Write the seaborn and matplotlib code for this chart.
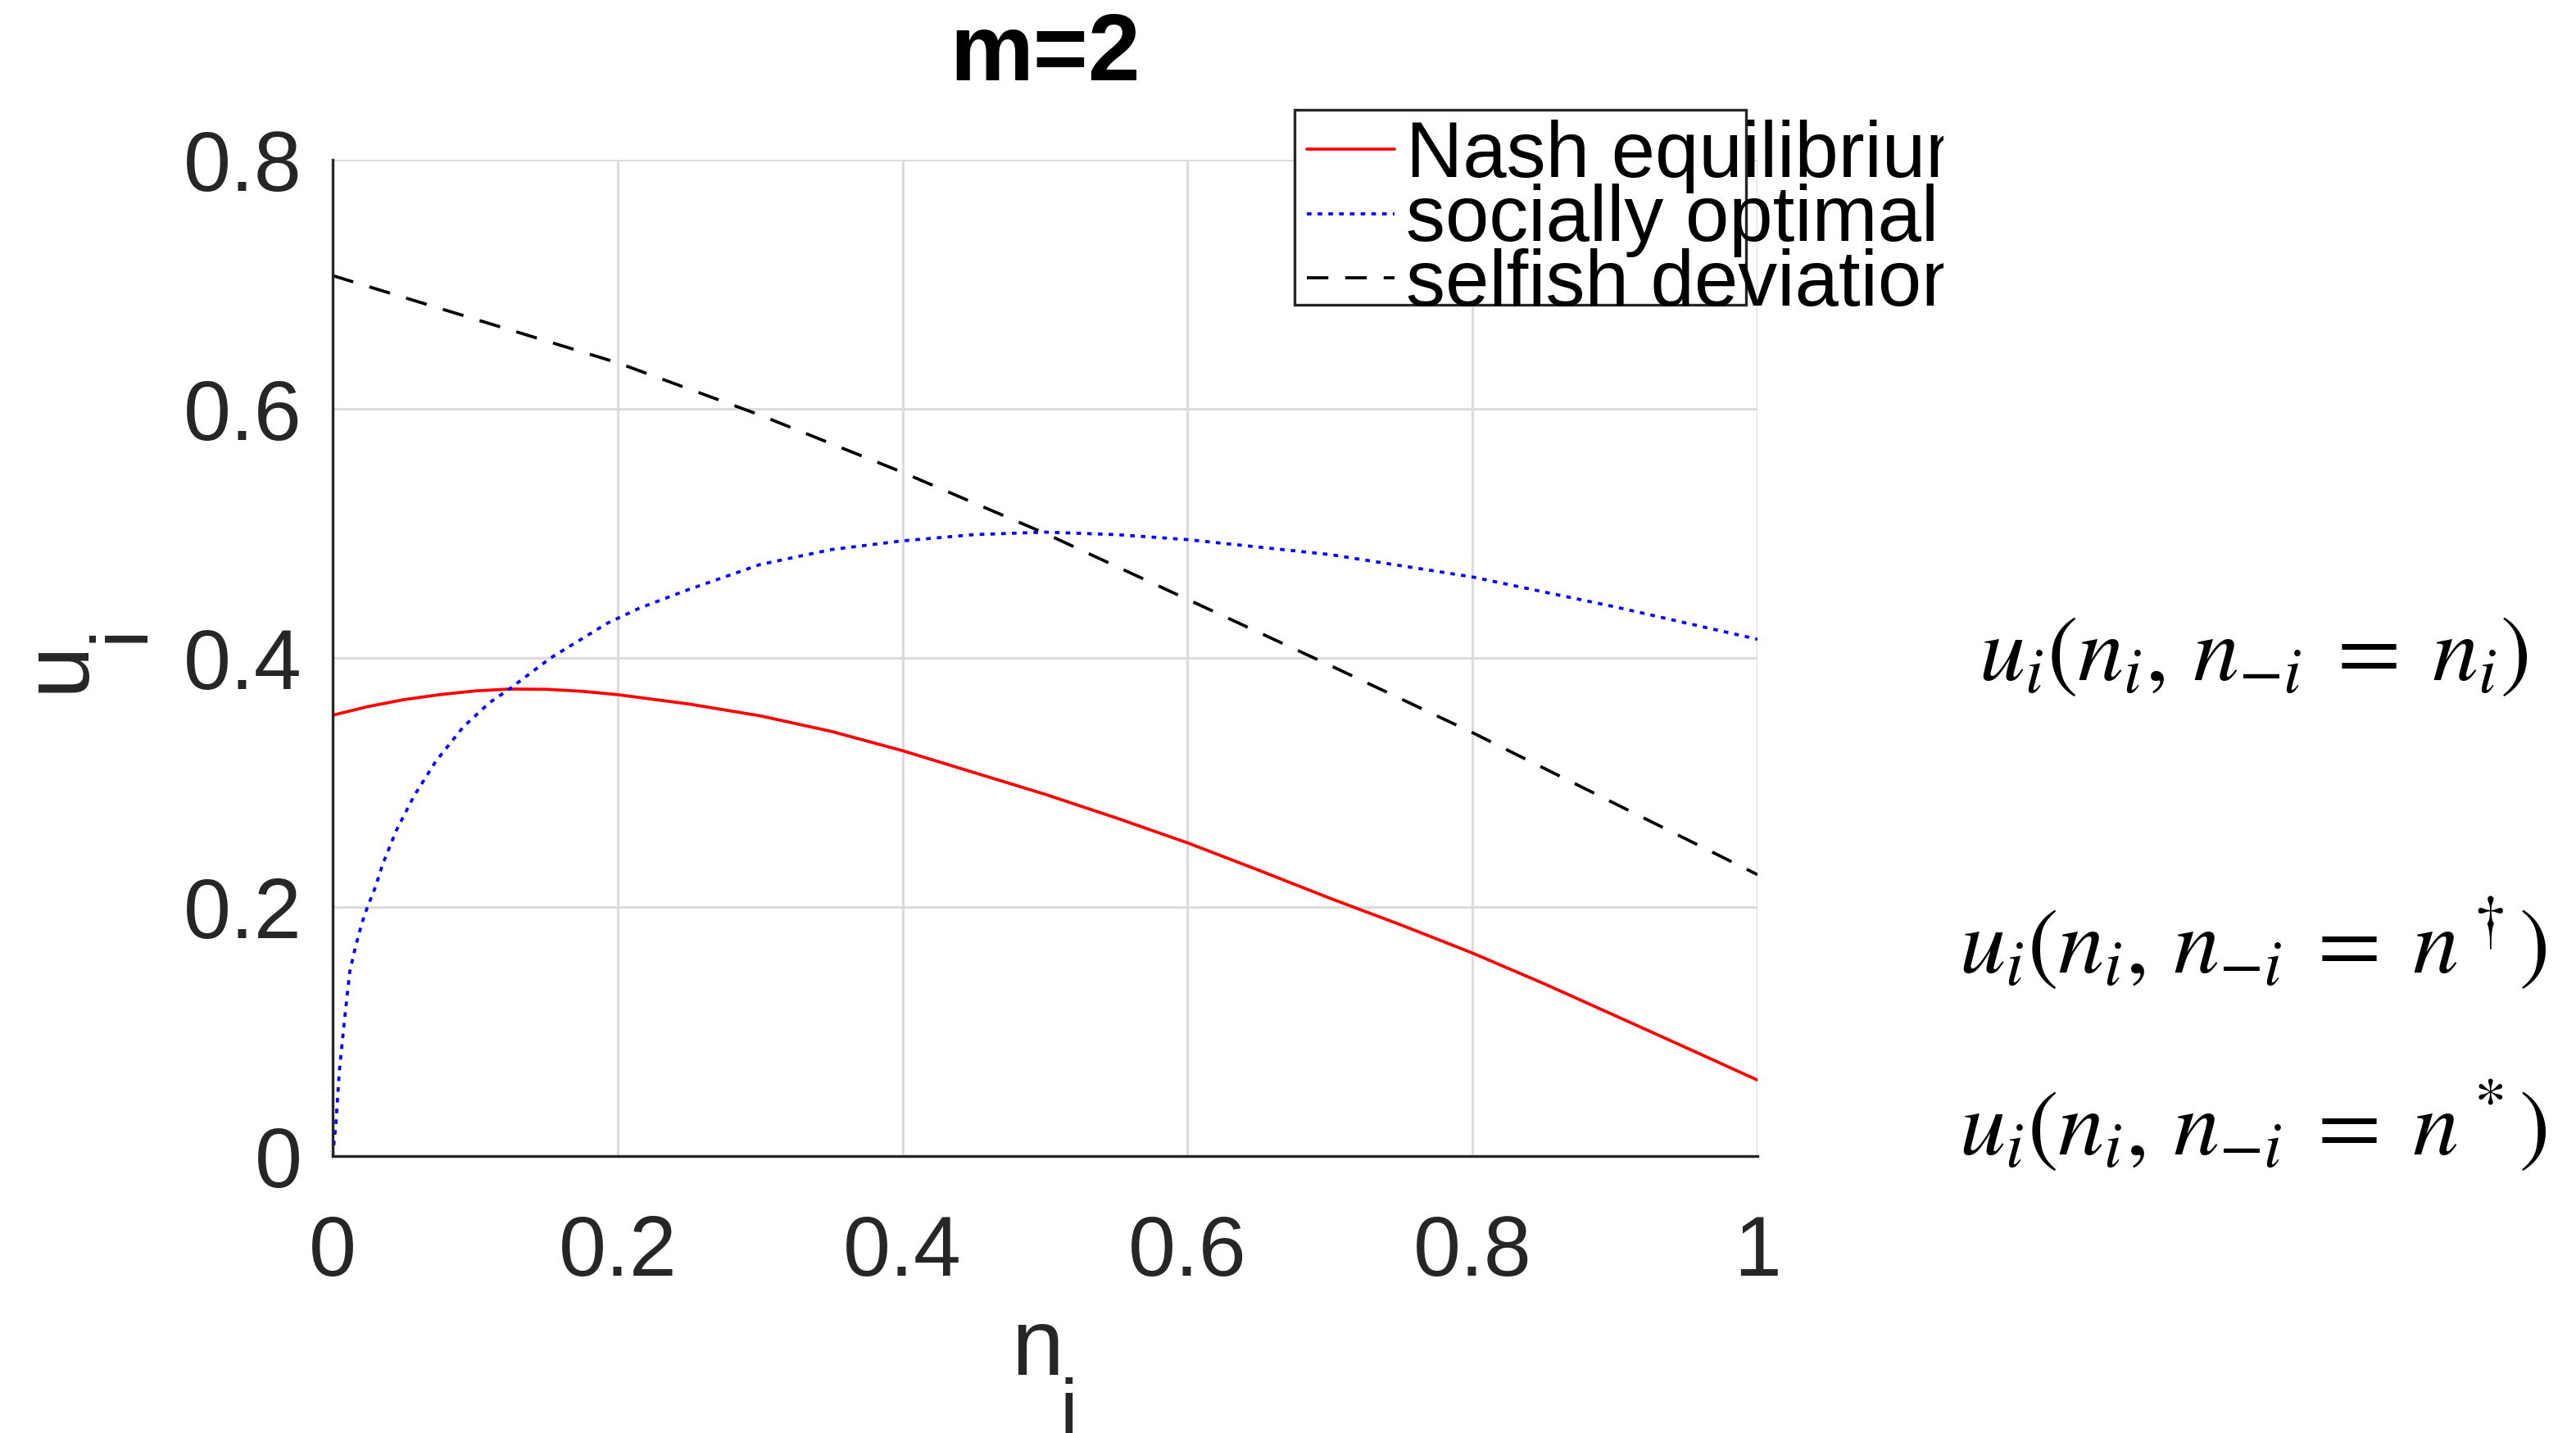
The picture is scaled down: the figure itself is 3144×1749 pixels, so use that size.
import matplotlib
matplotlib.use("Agg")
import matplotlib.pyplot as plt
import seaborn as sns
import pandas as pd
from matplotlib.patches import Rectangle
from matplotlib.transforms import Bbox

# ---------------- data ----------------
nash_x = [0, 0.025, 0.05, 0.075, 0.1, 0.124, 0.15, 0.175, 0.2, 0.25, 0.3,
          0.35, 0.4, 0.45, 0.5, 0.55, 0.6, 0.65, 0.7, 0.75, 0.8, 0.85, 0.9,
          0.95, 1.0]
nash_y = [0.354, 0.361, 0.3665, 0.3705, 0.3735, 0.375, 0.3748, 0.3732,
          0.3705, 0.3630, 0.3535, 0.3410, 0.3255, 0.3080, 0.2905, 0.2715,
          0.2515, 0.2295, 0.2070, 0.1855, 0.1630, 0.1385, 0.1128, 0.0870,
          0.0610]

soc_x = [0, 0.0023, 0.0046, 0.0073, 0.0095, 0.012, 0.016, 0.0205, 0.0244,
         0.03, 0.035, 0.0445, 0.057, 0.0724, 0.0916, 0.11, 0.124, 0.153,
         0.193, 0.2154, 0.25, 0.3, 0.35, 0.4, 0.45, 0.5, 0.55, 0.6, 0.65,
         0.7, 0.75, 0.8, 0.85, 0.9, 0.95, 1.0]
soc_y = [0, 0.026, 0.067, 0.098, 0.122, 0.148, 0.168, 0.187, 0.2, 0.216,
         0.234, 0.261, 0.289, 0.317, 0.3445, 0.364, 0.375, 0.40, 0.428,
         0.440, 0.455, 0.475, 0.487, 0.494, 0.499, 0.501, 0.499, 0.495,
         0.489, 0.483, 0.474, 0.465, 0.453, 0.441, 0.428, 0.415]

self_x = [0, 0.1, 0.2, 0.3, 0.4, 0.5, 0.6, 0.7, 0.8, 0.9, 1.0]
self_y = [0.707, 0.672, 0.637, 0.595, 0.549, 0.500, 0.447, 0.394, 0.340,
          0.283, 0.226]

series_labels = ["Nash equilibrium", "socially optimal", "selfish deviation"]
x_ticks = [0, 0.2, 0.4, 0.6, 0.8, 1.0]
x_tick_labels = ["0", "0.2", "0.4", "0.6", "0.8", "1"]
y_ticks = [0, 0.2, 0.4, 0.6, 0.8]
y_tick_labels = ["0", "0.2", "0.4", "0.6", "0.8"]
title_text = "m=2"
annot_texts = [r"$u_i(n_i,\, n_{-i} \;=\; n_i)$",
               r"$u_i(n_i,\, n_{-i} \;=\; n^\dagger)$",
               r"$u_i(n_i,\, n_{-i} \;=\; n^*)$"]

# ---------------- style ----------------
sns.set_theme(style="white")
plt.rcParams["font.family"] = ["Liberation Sans", "DejaVu Sans"]
plt.rcParams["mathtext.fontset"] = "stix"

W, H, DPI = 3145, 1749, 300
fig = plt.figure(figsize=(W / DPI, H / DPI), dpi=DPI)
fig.patch.set_facecolor("white")

def fx(px):
    return px / W

def fy(py):
    return 1 - py / H

ax_left, ax_right, ax_top, ax_bottom = 406, 2145, 195, 1411
ax = fig.add_axes([fx(ax_left), fy(ax_bottom), fx(ax_right - ax_left),
                   (ax_bottom - ax_top) / H])
ax.set_facecolor("white")

df_n = pd.DataFrame({"x": nash_x, "y": nash_y})
df_s = pd.DataFrame({"x": soc_x, "y": soc_y})
df_d = pd.DataFrame({"x": self_x, "y": self_y})

LW = 0.9
sns.lineplot(data=df_n, x="x", y="y", ax=ax, color="#ff0000", lw=LW,
             sort=False, estimator=None)
l_n = ax.lines[-1]
sns.lineplot(data=df_s, x="x", y="y", ax=ax, color="#0000ff", lw=LW,
             sort=False, estimator=None)
l_s = ax.lines[-1]
l_s.set_dashes([1.5, 2.0])
sns.lineplot(data=df_d, x="x", y="y", ax=ax, color="#000000", lw=LW,
             sort=False, estimator=None)
l_d = ax.lines[-1]
l_d.set_dashes([7.0, 5.5])

ax.set_xlim(0, 1)
ax.set_ylim(0, 0.8)
ax.set_xticks(x_ticks)
ax.set_xticklabels(x_tick_labels)
ax.set_yticks(y_ticks)
ax.set_yticklabels(y_tick_labels)
ax.set_xlabel("")
ax.set_ylabel("")

dark = "#262626"
ax.tick_params(axis="both", direction="in", length=3.8, width=0.8,
               colors=dark, labelsize=25)
ax.tick_params(axis="x", pad=17)
ax.tick_params(axis="y", pad=8.9)
for s in ["top", "right"]:
    ax.spines[s].set_visible(False)
for s in ["left", "bottom"]:
    ax.spines[s].set_color(dark)
    ax.spines[s].set_linewidth(0.8)
ax.grid(True, color="#dcdcdc", lw=0.75)
ax.set_axisbelow(True)

# ---------------- title & axis labels ----------------
fig.text(fx(1276), fy(98), title_text, ha="center", va="baseline",
         fontsize=27.5, fontweight="bold", color="black")

fig.text(fx(1234.5), fy(1678), "n", ha="left", va="baseline",
         fontsize=27.5, color=dark)
fig.text(fx(1293.5), fy(1752), "i", ha="left", va="baseline",
         fontsize=23.5, color=dark)

fig.text(fx(102), fy(845), "u", ha="left", va="baseline", rotation=90,
         rotation_mode="anchor", fontsize=27.5, color=dark)
fig.text(fx(175), fy(784), "i", ha="left", va="baseline", rotation=90,
         rotation_mode="anchor", fontsize=23.5, color=dark)

# ---------------- legend ----------------
box = Rectangle((fx(1580), fy(372)), fx(2131 - 1580), (372 - 134) / H,
                transform=fig.transFigure, facecolor="white",
                edgecolor=dark, lw=0.8, clip_on=False, zorder=4)
ax.add_patch(box)
leg = ax.legend(handles=[l_n, l_s, l_d], labels=series_labels,
                loc="upper left", bbox_to_anchor=(fx(1595), fy(146)),
                bbox_transform=fig.transFigure, frameon=False,
                fontsize=23, handlelength=1.12, handletextpad=0.14,
                labelspacing=-0.12, borderpad=0, borderaxespad=0)
leg.set_zorder(5)
clip = Bbox.from_extents(0, 0, 2372, H)
for t in leg.get_texts():
    t.set_color("black")
    t.set_clip_box(clip)
    t.set_clip_on(True)

# ---------------- right-hand annotations ----------------
for txt, yb in zip(annot_texts, [830, 1188, 1410]):
    fig.text(fx(2750), fy(yb), txt, ha="center", va="baseline",
             fontsize=27, color="black")

fig.savefig("out.png", dpi=DPI, facecolor="white")
